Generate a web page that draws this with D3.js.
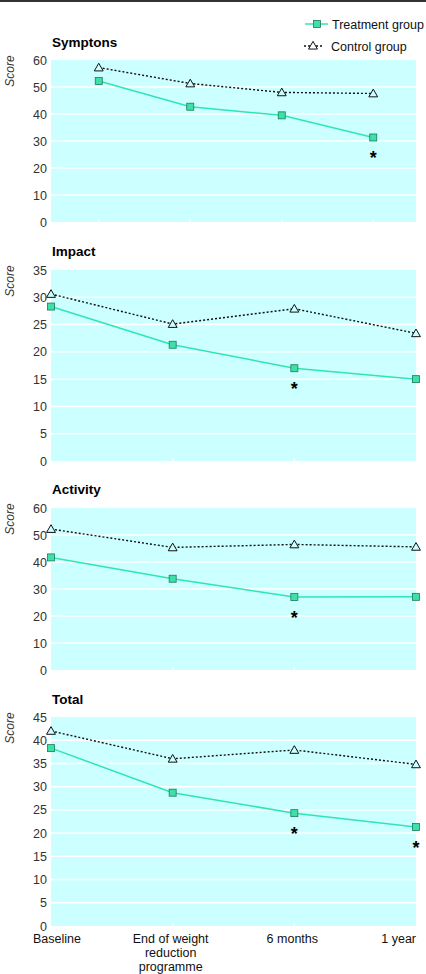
<!DOCTYPE html>
<html><head><meta charset="utf-8">
<script src="https://cdn.jsdelivr.net/npm/d3@7"></script>
<style>
body{margin:0;background:#fff;}
text{font-family:"Liberation Sans Narrow","Arial Narrow","Liberation Sans",Arial,sans-serif;}
</style></head>
<body><svg id="c" width="426" height="974"></svg>
<script>
// ---- data ----
const categories = ["Baseline", "End of weight reduction programme", "6 months", "1 year"];
const categoryLines = [["Baseline"], ["End of weight", "reduction", "programme"], ["6 months"], ["1 year"]];
const panelTitles = ["Symptons", "Impact", "Activity", "Total"];
const treatmentSymptons = [52.2, 42.7, 39.5, 31.3];
const controlSymptons   = [57.2, 51.3, 48.0, 47.6];
const treatmentImpact   = [28.3, 21.3, 17.0, 15.0];
const controlImpact     = [30.6, 25.1, 27.9, 23.4];
const treatmentActivity = [41.7, 33.8, 27.0, 27.1];
const controlActivity   = [52.2, 45.4, 46.5, 45.6];
const treatmentTotal    = [38.3, 28.7, 24.3, 21.3];
const controlTotal      = [42.0, 36.0, 37.9, 34.8];
const yTicksSymptons = [0, 10, 20, 30, 40, 50, 60];
const yTicksImpact   = [0, 5, 10, 15, 20, 25, 30, 35];
const yTicksActivity = [0, 10, 20, 30, 40, 50, 60];
const yTicksTotal    = [0, 5, 10, 15, 20, 25, 30, 35, 40, 45];
const significant = [[3], [2], [2], [2, 3]]; // indices marked with asterisk
const seriesNames = ["Treatment group", "Control group"];

// ---- layout ----
const svg = d3.select("#c");
const W = 426;
const L = 51, R = 416;
const fill = "#ccffff";
const tColor = "#2ee6b4";
const sqFill = "#3de0a6";
const sqStroke = "#1d7a5a";

svg.append("rect").attr("x", 0).attr("y", 0).attr("width", W).attr("height", 2).attr("fill", "#333");

const panels = [
  {title: panelTitles[0], t: treatmentSymptons, c: controlSymptons, ticks: yTicksSymptons, top: 60, bottom: 222, titleY: 47, xr: [53, 419], pad: 0.5, sig: significant[0], allTicks: true},
  {title: panelTitles[1], t: treatmentImpact, c: controlImpact, ticks: yTicksImpact, top: 270, bottom: 461, titleY: 256, xr: [L, R], pad: 0, sig: significant[1]},
  {title: panelTitles[2], t: treatmentActivity, c: controlActivity, ticks: yTicksActivity, top: 508, bottom: 670, titleY: 494, xr: [L, R], pad: 0, sig: significant[2]},
  {title: panelTitles[3], t: treatmentTotal, c: controlTotal, ticks: yTicksTotal, top: 717, bottom: 926, titleY: 704, xr: [L, R], pad: 0, sig: significant[3]}
];

const tri = d3.symbol().type(d3.symbolTriangle).size(34);

panels.forEach((p, pi) => {
  const x = d3.scalePoint().domain(categories).range(p.xr).padding(p.pad);
  const y = d3.scaleLinear().domain([0, d3.max(p.ticks)]).range([p.bottom, p.top]);
  const g = svg.append("g");

  g.append("rect").attr("x", L).attr("y", p.top).attr("width", R - L).attr("height", p.bottom - p.top).attr("fill", fill);

  // gridlines
  g.selectAll(".grid").data(p.ticks.filter(v => v > 0 && v < d3.max(p.ticks))).join("line")
    .attr("x1", L).attr("x2", R).attr("y1", d => y(d)).attr("y2", d => y(d))
    .attr("stroke", "#fff").attr("stroke-width", 1.5);

  // bottom ticks (white, inward)
  const tickCats = p.allTicks ? categories : categories.slice(1, 3);
  g.selectAll(".xt").data(tickCats).join("line")
    .attr("x1", d => x(d)).attr("x2", d => x(d)).attr("y1", p.bottom).attr("y2", p.bottom - 3)
    .attr("stroke", "#fff").attr("stroke-width", 1.2);

  // y tick labels
  g.selectAll(".yl").data(p.ticks).join("text")
    .attr("x", 47).attr("y", d => y(d)).attr("dy", "0.36em")
    .attr("text-anchor", "end").attr("font-size", 12.5).attr("fill", "#333")
    .text(d => d);

  // Score label
  g.append("text").attr("transform", `translate(14,${p.top + 11}) rotate(-90)`)
    .attr("text-anchor", "middle").attr("font-size", 12).attr("font-style", "italic").attr("fill", "#333")
    .text("Score");

  // title
  g.append("text").attr("x", L + 1).attr("y", p.titleY).attr("font-size", 13.5).attr("font-weight", "bold")
    .attr("fill", "#000").text(p.title);

  const line = d3.line().x((d, i) => x(categories[i])).y(d => y(d));

  // control
  g.append("path").attr("d", line(p.c)).attr("fill", "none").attr("stroke", "#111")
    .attr("stroke-width", 1.4).attr("stroke-dasharray", "2,2");
  g.selectAll(".ct").data(p.c).join("path")
    .attr("transform", (d, i) => `translate(${x(categories[i])},${y(d) + 0.8})`)
    .attr("d", tri).attr("fill", fill).attr("stroke", "#111").attr("stroke-width", 1);

  // treatment
  g.append("path").attr("d", line(p.t)).attr("fill", "none").attr("stroke", tColor).attr("stroke-width", 1.5);
  g.selectAll(".ts").data(p.t).join("rect")
    .attr("x", (d, i) => x(categories[i]) - 3.5).attr("y", d => y(d) - 3.5)
    .attr("width", 7).attr("height", 7).attr("fill", sqFill).attr("stroke", sqStroke).attr("stroke-width", 0.8);

  // asterisks
  g.selectAll(".ast").data(p.sig).join("text")
    .attr("x", d => x(categories[d])).attr("y", d => y(p.t[d]) + 27)
    .attr("text-anchor", "middle").attr("font-size", 18).attr("font-weight", "bold")
    .attr("font-family", "Liberation Sans, Arial, sans-serif").attr("fill", "#000")
    .text("*");

  // x labels on last panel
  if (pi === panels.length - 1) {
    categoryLines.forEach((lines, i) => {
      const anchor = i === 0 ? "start" : (i === categories.length - 1 ? "end" : "middle");
      const xx = i === 0 ? 33 : (i === categories.length - 1 ? R : x(categories[i]) - 2);
      const t = g.append("text").attr("x", xx).attr("y", p.bottom + 17)
        .attr("text-anchor", anchor).attr("font-size", 12.5).attr("fill", "#111");
      lines.forEach((s, k) => {
        t.append("tspan").attr("x", xx).attr("dy", k === 0 ? 0 : 14).text(s);
      });
    });
  }
});

// legend
const lg = svg.append("g");
lg.append("line").attr("x1", 305).attr("x2", 328).attr("y1", 24).attr("y2", 24).attr("stroke", tColor).attr("stroke-width", 1.5);
lg.append("rect").attr("x", 313.5).attr("y", 20.5).attr("width", 7).attr("height", 7).attr("fill", sqFill).attr("stroke", sqStroke).attr("stroke-width", 0.8);
lg.append("text").attr("x", 332).attr("y", 24).attr("dy", "0.36em").attr("font-size", 12.5).attr("fill", "#111").text(seriesNames[0]);
lg.append("line").attr("x1", 304).attr("x2", 324).attr("y1", 46).attr("y2", 46).attr("stroke", "#111").attr("stroke-width", 1.4).attr("stroke-dasharray", "2,2");
lg.append("path").attr("transform", "translate(313,46.5)").attr("d", tri).attr("fill", "#fff").attr("stroke", "#111").attr("stroke-width", 1);
lg.append("text").attr("x", 331).attr("y", 46).attr("dy", "0.36em").attr("font-size", 12.5).attr("fill", "#111").text(seriesNames[1]);
</script></body></html>
